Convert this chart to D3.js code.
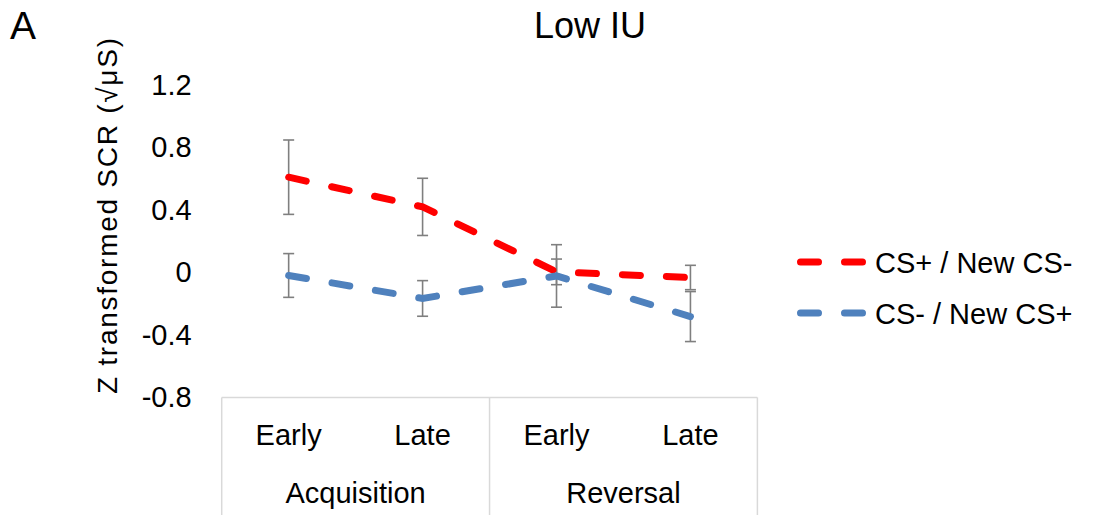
<!DOCTYPE html>
<html>
<head>
    <meta charset="utf-8">
    <title>Low IU</title>
    <script src="https://d3js.org/d3.v7.min.js"></script>
    <style>
        body { margin: 0; background: #fff; }
        text { font-family: "Liberation Sans", Arial, sans-serif; fill: #000; }
    </style>
</head>
<body>
<script>
    // data
    var phases = ["Acquisition", "Reversal"];
    var stages = ["Early", "Late", "Early", "Late"];
    var categories = ["Acq-Early", "Acq-Late", "Rev-Early", "Rev-Late"];
    var yTicks = [-0.8, -0.4, 0, 0.4, 0.8, 1.2];

    var seriesNames = ["CS+ / New CS-", "CS- / New CS+"];
    var csPlus = [0.61, 0.42, 0.004, -0.032];
    var csPlusErr = [0.238, 0.183, 0.082, 0.078];
    var csMinus = [-0.019, -0.166, -0.022, -0.282];
    var csMinusErr = [0.14, 0.114, 0.2, 0.16];

    var colors = ["#ff0000", "#4f81bd"];

    var W = 1098, H = 515;
    var svg = d3.select("body").append("svg")
        .attr("width", W)
        .attr("height", H);

    var x = d3.scaleBand()
        .domain(categories)
        .range([221.7, 757.4]);

    var y = d3.scaleLinear()
        .domain([-0.8, 1.2])
        .range([397.5, 85]);

    var series = [
        {name: seriesNames[0], values: csPlus, err: csPlusErr, color: colors[0]},
        {name: seriesNames[1], values: csMinus, err: csMinusErr, color: colors[1]}
    ];

    // y axis (labels only), plain hyphen for negatives like the original
    var yAxis = d3.axisLeft(y)
        .tickValues(yTicks)
        .tickSize(0)
        .tickPadding(30)
        .tickFormat(function(d) { return d === 0 ? "0" : d.toFixed(1); });

    var gy = svg.append("g")
        .attr("transform", "translate(" + x.range()[0] + ",0)")
        .call(yAxis);
    gy.select(".domain").remove();
    gy.selectAll("text")
        .style("font-size", "29px")
        .attr("font-family", null);

    // y axis title
    svg.append("text")
        .attr("transform", "translate(117,216) rotate(-90)")
        .attr("text-anchor", "middle")
        .attr("textLength", 356)
        .attr("lengthAdjust", "spacing")
        .style("font-size", "28px")
        .text("Z transformed SCR (\u221A\u03BCS)");

    // category box
    var boxTop = y(-0.8);
    var left = x.range()[0], right = x.range()[1];
    var mid = x(categories[2]);
    var box = svg.append("g")
        .attr("stroke", "#d9d9d9")
        .attr("stroke-width", 1.5)
        .attr("fill", "none");
    box.append("line").attr("x1", left).attr("x2", right).attr("y1", boxTop).attr("y2", boxTop);
    [left, mid, right].forEach(function(px) {
        box.append("line").attr("x1", px).attr("x2", px).attr("y1", boxTop).attr("y2", H);
    });

    svg.selectAll(".stage")
        .data(categories)
        .enter().append("text")
        .attr("class", "stage")
        .attr("x", function(d) { return x(d) + x.bandwidth() / 2; })
        .attr("y", 445)
        .attr("text-anchor", "middle")
        .style("font-size", "29px")
        .text(function(d, i) { return stages[i]; });

    svg.selectAll(".phase")
        .data(phases)
        .enter().append("text")
        .attr("class", "phase")
        .attr("x", function(d, i) { return x(categories[i * 2]) + x.bandwidth(); })
        .attr("y", 503)
        .attr("text-anchor", "middle")
        .style("font-size", "29px")
        .text(function(d) { return d; });

    // error bars
    var cap = 5.5;
    series.forEach(function(s) {
        var g = svg.append("g")
            .attr("stroke", "#7f7f7f")
            .attr("stroke-width", 1.6);
        categories.forEach(function(c, i) {
            var cx = x(c) + x.bandwidth() / 2;
            var hi = y(s.values[i] + s.err[i]);
            var lo = y(s.values[i] - s.err[i]);
            g.append("line").attr("x1", cx).attr("x2", cx).attr("y1", hi).attr("y2", lo);
            g.append("line").attr("x1", cx - cap).attr("x2", cx + cap).attr("y1", hi).attr("y2", hi);
            g.append("line").attr("x1", cx - cap).attr("x2", cx + cap).attr("y1", lo).attr("y2", lo);
        });
    });

    // lines
    var line = d3.line()
        .x(function(d, i) { return x(categories[i]) + x.bandwidth() / 2; })
        .y(function(d) { return y(d); });

    series.forEach(function(s) {
        svg.append("path")
            .datum(s.values)
            .attr("d", line)
            .attr("fill", "none")
            .attr("stroke", s.color)
            .attr("stroke-width", 7)
            .attr("stroke-linecap", "round")
            .attr("stroke-dasharray", "18,26");
    });

    // legend
    var legend = svg.append("g");
    series.forEach(function(s, i) {
        var ly = 262 + i * 51;
        legend.append("line")
            .attr("x1", 800.5).attr("x2", 863)
            .attr("y1", ly).attr("y2", ly)
            .attr("stroke", s.color)
            .attr("stroke-width", 7)
            .attr("stroke-linecap", "round")
            .attr("stroke-dasharray", "18,26");
        legend.append("text")
            .attr("x", 875)
            .attr("y", ly + 10.5)
            .style("font-size", "29px")
            .text(s.name);
    });

    // title and panel letter
    svg.append("text")
        .attr("x", 590)
        .attr("y", 38)
        .attr("text-anchor", "middle")
        .style("font-size", "36px")
        .text("Low IU");

    svg.append("text")
        .attr("x", 10)
        .attr("y", 39)
        .style("font-size", "39px")
        .text("A");
</script>
</body>
</html>
